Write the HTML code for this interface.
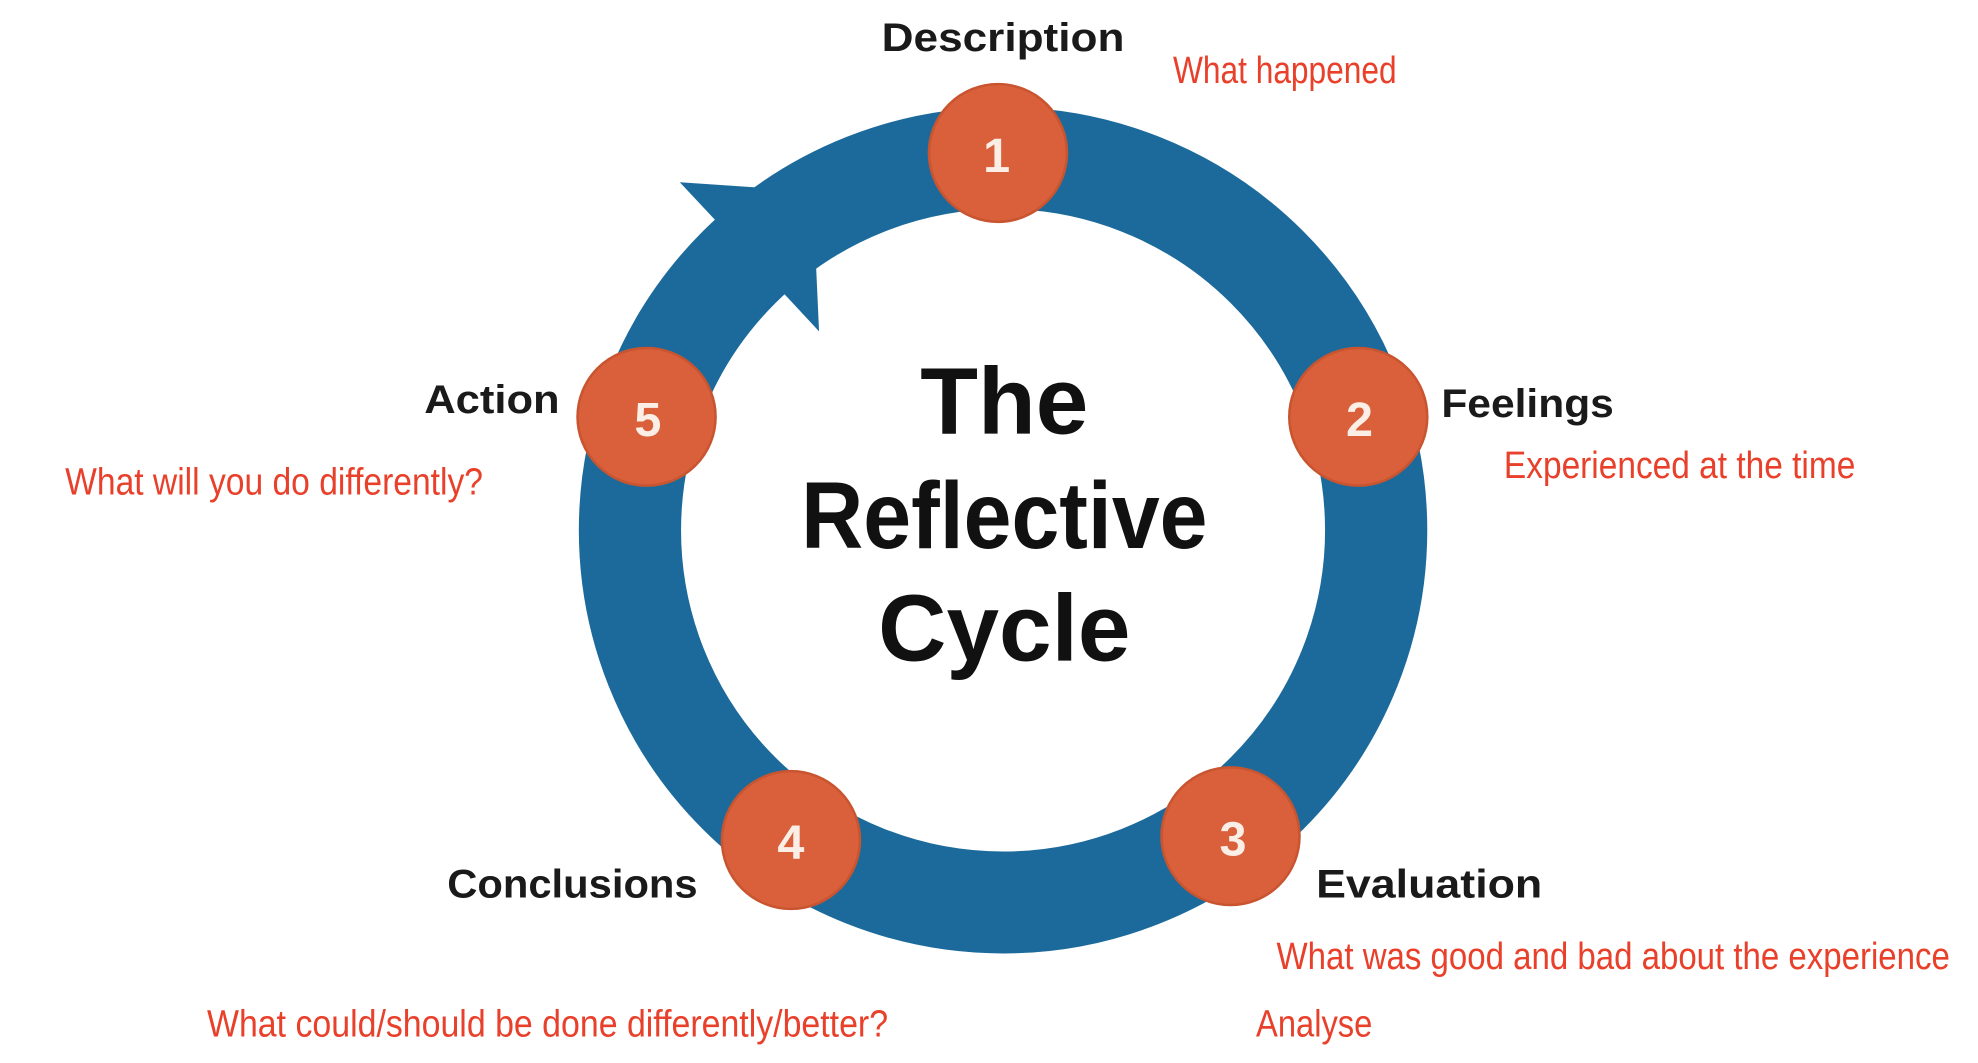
<!DOCTYPE html>
<html><head><meta charset="utf-8"><style>html,body{margin:0;padding:0;background:#fff;overflow:hidden}</style></head>
<body>
<svg width="1978" height="1058" viewBox="0 0 1548 830" preserveAspectRatio="none" xmlns="http://www.w3.org/2000/svg">
<rect width="1548" height="830" fill="#fff"/>
<circle cx="785" cy="416" r="292" fill="none" stroke="#1c6a9b" stroke-width="80"/>
<polygon points="532,143 636,150 641,260 590,205" fill="#1c6a9b"/>
<g fill="#d9603a" stroke="#c85530" stroke-width="2">
<circle cx="781" cy="120" r="54"/>
<circle cx="1063" cy="327" r="54"/>
<circle cx="963" cy="656" r="54"/>
<circle cx="619" cy="659" r="54"/>
<circle cx="506" cy="327" r="54"/>
</g>
<g font-family="Liberation Sans, sans-serif" font-weight="bold" font-size="38" fill="#fbeee6" text-anchor="middle">
<text x="780" y="135">1</text>
<text x="1064" y="342">2</text>
<text x="965" y="671">3</text>
<text x="619" y="674">4</text>
<text x="507" y="342">5</text>
</g>
<g font-family="Liberation Sans, sans-serif" font-weight="bold" font-size="31" fill="#1a1a1a">
<text x="690" y="40" textLength="190" lengthAdjust="spacingAndGlyphs">Description</text>
<text x="1128" y="327" textLength="135" lengthAdjust="spacingAndGlyphs">Feelings</text>
<text x="332" y="324" textLength="106" lengthAdjust="spacingAndGlyphs">Action</text>
<text x="350" y="704" textLength="196" lengthAdjust="spacingAndGlyphs">Conclusions</text>
<text x="1030" y="704" textLength="177" lengthAdjust="spacingAndGlyphs">Evaluation</text>
</g>
<g font-family="Liberation Sans, sans-serif" font-weight="bold" font-size="74" fill="#111" text-anchor="middle">
<text x="786" y="340">The</text>
<text x="786" y="430" textLength="318" lengthAdjust="spacingAndGlyphs">Reflective</text>
<text x="786" y="518">Cycle</text>
</g>
<g font-family="Liberation Sans, sans-serif" font-size="30" fill="#e8402a" lengthAdjust="spacingAndGlyphs">
<text x="918" y="65" textLength="175" lengthAdjust="spacingAndGlyphs">What happened</text>
<text x="1177" y="375" textLength="275" lengthAdjust="spacingAndGlyphs">Experienced at the time</text>
<text x="51" y="388" textLength="327" lengthAdjust="spacingAndGlyphs">What will you do differently?</text>
<text x="999" y="760" textLength="527" lengthAdjust="spacingAndGlyphs">What was good and bad about the experience</text>
<text x="162" y="813" textLength="533" lengthAdjust="spacingAndGlyphs">What could/should be done differently/better?</text>
<text x="983" y="813" textLength="91" lengthAdjust="spacingAndGlyphs">Analyse</text>
</g>
</svg>
</body></html>
